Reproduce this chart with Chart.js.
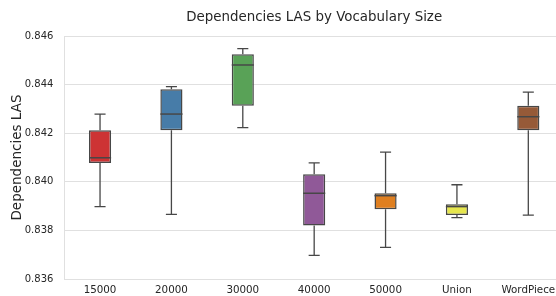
<!DOCTYPE html>
<html>
<head>
<meta charset="utf-8">
<script src="https://cdn.jsdelivr.net/npm/chart.js@4/dist/chart.umd.min.js"></script>
<style>
    html, body { margin: 0; padding: 0; background: #fff; overflow: hidden; }
    #wrap { width: 556px; height: 296px; overflow: hidden; }
</style>
</head>
<body>
<div id="wrap"><canvas id="las-chart" width="564" height="296"></canvas></div>
<script>
    "use strict";

    var categories = ['15000', '20000', '30000', '40000', '50000', 'Union', 'WordPiece'];
    var whiskerLow = [0.83898, 0.83866, 0.84223, 0.83697, 0.83730, 0.83853, 0.83863];
    var q1 = [0.84078, 0.84212, 0.84313, 0.83820, 0.83887, 0.83863, 0.84212];
    var median = [0.84099, 0.84279, 0.84481, 0.83953, 0.83943, 0.83898, 0.84268];
    var q3 = [0.84212, 0.84381, 0.84525, 0.84031, 0.83953, 0.83908, 0.84313];
    var whiskerHigh = [0.84279, 0.84392, 0.84548, 0.84078, 0.84122, 0.83988, 0.84369];
    var boxColors = ['#cd3334', '#477ca8', '#59a257', '#905998', '#df7f20', '#e6e64d', '#965a38'];

    var lineColor = '#474747';
    var textColor = '#262626';
    var gridColor = '#e0e0e0';

    // whiskers go behind the boxes, medians on top of them
    var boxPlotLines = {
        id: 'boxPlotLines',
        beforeDatasetsDraw: function (chart) {
            var ctx = chart.ctx;
            var x = chart.scales.x, y = chart.scales.y;
            var bars = chart.getDatasetMeta(0).data;
            ctx.save();
            ctx.strokeStyle = lineColor;
            ctx.lineWidth = 1.3;
            categories.forEach(function (c, i) {
                var cx = x.getPixelForValue(i);
                var half = bars[i].width / 4;
                var lo = y.getPixelForValue(whiskerLow[i]);
                var hi = y.getPixelForValue(whiskerHigh[i]);
                ctx.beginPath();
                ctx.moveTo(cx, lo);
                ctx.lineTo(cx, y.getPixelForValue(q1[i]));
                ctx.moveTo(cx, hi);
                ctx.lineTo(cx, y.getPixelForValue(q3[i]));
                ctx.moveTo(cx - half, lo);
                ctx.lineTo(cx + half, lo);
                ctx.moveTo(cx - half, hi);
                ctx.lineTo(cx + half, hi);
                ctx.stroke();
            });
            ctx.restore();
        },
        afterDatasetsDraw: function (chart) {
            var ctx = chart.ctx;
            var x = chart.scales.x, y = chart.scales.y;
            var bars = chart.getDatasetMeta(0).data;
            ctx.save();
            ctx.strokeStyle = lineColor;
            ctx.lineWidth = 1.5;
            categories.forEach(function (c, i) {
                var cx = x.getPixelForValue(i);
                var half = bars[i].width / 2;
                var my = y.getPixelForValue(median[i]);
                ctx.beginPath();
                ctx.moveTo(cx - half, my);
                ctx.lineTo(cx + half, my);
                ctx.stroke();
            });
            ctx.restore();
        }
    };

    var ctx = document.getElementById('las-chart').getContext('2d');
    new Chart(ctx, {
        type: 'bar',
        data: {
            labels: categories,
            datasets: [{
                label: 'LAS',
                data: categories.map(function (c, i) { return [q1[i], q3[i]]; }),
                backgroundColor: boxColors,
                borderColor: lineColor,
                borderWidth: 1.5,
                borderSkipped: false,
                barPercentage: 0.31,
                categoryPercentage: 1.0
            }]
        },
        plugins: [boxPlotLines],
        options: {
            responsive: false,
            animation: false,
            layout: { padding: { left: 0, right: 0, top: 0, bottom: 0 } },
            plugins: {
                legend: { display: false },
                tooltip: { enabled: false },
                title: {
                    display: true,
                    text: 'Dependencies LAS by Vocabulary Size',
                    fullSize: false,
                    color: textColor,
                    font: { family: 'DejaVu Sans', size: 13.4, weight: 'normal' },
                    padding: { top: 9, bottom: 11 }
                }
            },
            scales: {
                x: {
                    grid: { display: false, drawTicks: false },
                    border: { display: true, color: gridColor, width: 1 },
                    ticks: {
                        color: textColor,
                        font: { family: 'DejaVu Sans', size: 10.3 },
                        padding: 5,
                        maxRotation: 0,
                        autoSkip: false
                    },
                    afterFit: function (scale) { scale.height = 16; }
                },
                y: {
                    min: 0.836,
                    max: 0.846,
                    grid: { color: gridColor, drawTicks: false },
                    border: { display: true, color: gridColor, width: 1 },
                    ticks: {
                        stepSize: 0.002,
                        color: textColor,
                        font: { family: 'DejaVu Sans', size: 10 },
                        padding: 11,
                        callback: function (v) { return v.toFixed(3); }
                    },
                    title: {
                        display: true,
                        text: 'Dependencies LAS',
                        color: textColor,
                        font: { family: 'DejaVu Sans', size: 13.5 },
                        padding: { top: 9, bottom: 0 }
                    },
                    afterFit: function (scale) { scale.width = 64.35; }
                }
            }
        }
    });
</script>
</body>
</html>
